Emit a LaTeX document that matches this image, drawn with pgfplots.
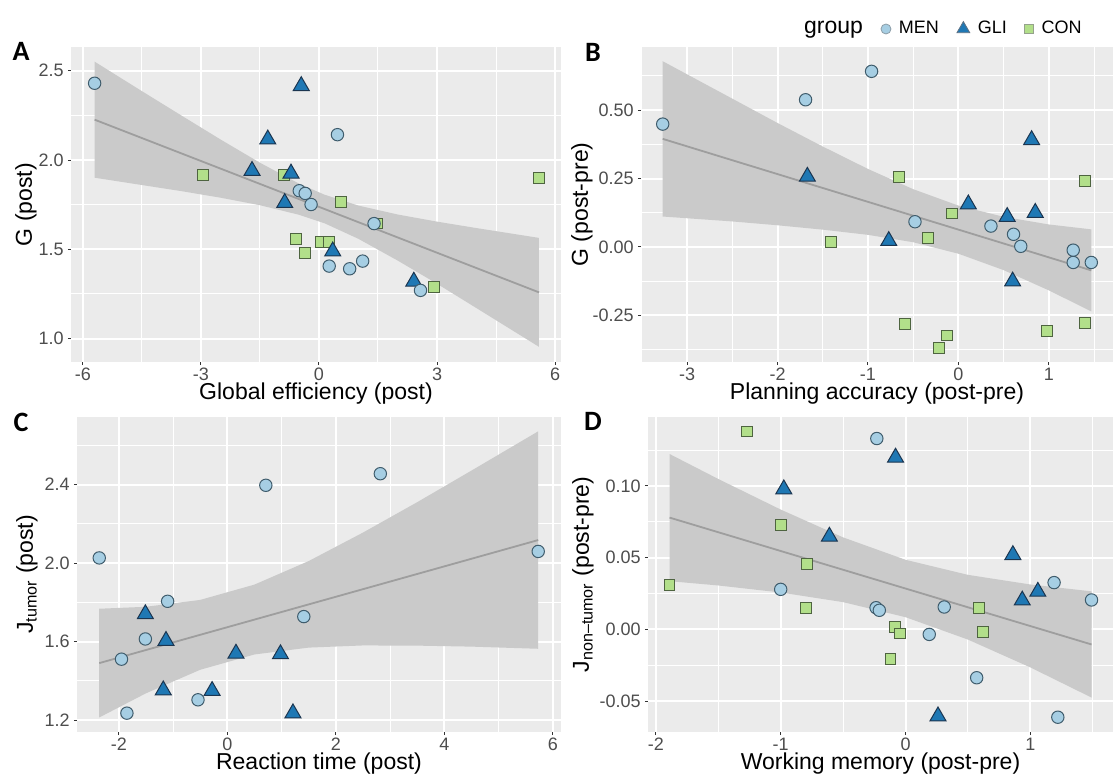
\documentclass[border=0pt]{standalone}
\usepackage{fontspec}
\setmainfont{Liberation Sans}
\newfontfamily\panelfont{Carlito}
\usepackage{pgfplots}
\pgfplotsset{compat=1.18}
\definecolor{panelbg}{HTML}{EBEBEB}
\definecolor{bandfill}{HTML}{CACACA}
\definecolor{fitline}{HTML}{9E9E9E}
\definecolor{men}{HTML}{A6CEE3}
\definecolor{gli}{HTML}{1F78B4}
\definecolor{con}{HTML}{B2DF8A}
\definecolor{menedge}{HTML}{3F5C6C}
\definecolor{gliedge}{HTML}{1B3550}
\definecolor{conedge}{HTML}{4E6440}
\definecolor{ticktxt}{HTML}{4D4D4D}
\pgfplotsset{
  panel/.style={
    scale only axis, anchor=south west,
    axis background/.style={fill=panelbg},
    axis line style={draw=none},
    grid=both,
    major grid style={white, line width=1pt},
    minor grid style={white, line width=0.5pt},
    tick align=outside, major tick length=1.6pt, minor tick length=0pt,
    major tick style={draw=black!80, line width=0.5pt},
    tick pos=left,
    ticklabel style={font=\fontsize{9}{10}\selectfont, text=ticktxt},
    xticklabel style={yshift=2.2pt},
    yticklabel style={xshift=1.5pt},
    label style={font=\fontsize{11.5}{13}\selectfont},
    xlabel style={at={(axis description cs:0.5,-0.1016)}, anchor=center},
  },
  men/.style={only marks, mark=*, mark size=3.1pt, mark options={fill=men, draw=menedge, line width=0.5pt}},
  gli/.style={only marks, mark=triangle*, mark size=4.6pt, mark options={fill=gli, draw=gliedge, line width=0.5pt}},
  con/.style={only marks, mark=square*, mark size=2.7pt, mark options={fill=con, draw=conedge, line width=0.5pt}},
  band/.style={fill=bandfill, draw=none},
  fit/.style={fitline, line width=0.9pt, no marks},
}
\begin{document}
\begin{tikzpicture}
\useasboundingbox (0,0) rectangle (557.5pt,390.5pt);

% ---------------- Panel A ----------------
\begin{axis}[panel, at={(35.5pt,209.5pt)}, width=245pt, height=157.5pt,
  xmin=-6.30, xmax=6.15, ymin=0.869, ymax=2.633,
  xtick={-6,-3,0,3,6}, xticklabels={-6,-3,0,3,6},
  minor xtick={-4.5,-1.5,1.5,4.5},
  ytick={1,1.5,2,2.5}, yticklabels={1.0,1.5,2.0,2.5},
  minor ytick={1.25,1.75,2.25},
  xlabel={Global efficiency (post)}, ylabel={G (post)},
  ylabel style={at={(axis description cs:-0.0918,0.5)}, anchor=center}]
\addplot[band] coordinates {(-5.70,2.551) (-4.5,2.386) (-3.5,2.250) (-2.5,2.115) (-1.5,1.985) (-0.5,1.867) (0.14,1.806) (1,1.745) (2,1.695) (3,1.655) (4,1.619) (5.59,1.564)
 (5.59,0.954) (4,1.171) (3,1.307) (2,1.437) (1,1.559) (0.14,1.646) (-0.5,1.693) (-1.5,1.747) (-2.5,1.789) (-3.5,1.826) (-4.5,1.860) (-5.70,1.901)} -- cycle;
\addplot[fit] coordinates {(-5.70,2.226) (5.59,1.259)};
\addplot[con] coordinates {(-2.95,1.916) (-0.88,1.916) (5.59,1.90) (0.56,1.766) (1.47,1.644) (-0.58,1.556) (0.05,1.541) (0.26,1.541) (-0.35,1.479) (2.92,1.288)};
\addplot[gli] coordinates {(-0.45,2.415) (-1.30,2.116) (-1.70,1.94) (-0.71,1.925) (-0.87,1.76) (0.35,1.489) (2.41,1.32)};
\addplot[men] coordinates {(-5.70,2.43) (0.47,2.142) (-0.50,1.828) (-0.35,1.813) (-0.20,1.751) (1.40,1.644) (0.26,1.406) (0.78,1.391) (1.11,1.434) (2.58,1.270)};
\end{axis}

% ---------------- Panel B ----------------
\begin{axis}[panel, at={(320.5pt,209.5pt)}, width=236pt, height=157.5pt,
  xmin=-3.51, xmax=1.71, ymin=-0.421, ymax=0.731,
  xtick={-3,-2,-1,0,1}, xticklabels={-3,-2,-1,0,1},
  minor xtick={-3.5,-2.5,-1.5,-0.5,0.5,1.5},
  ytick={-0.25,0,0.25,0.5}, yticklabels={-0.25,0.00,0.25,0.50},
  minor ytick={-0.375,-0.125,0.125,0.375,0.625},
  xlabel={Planning accuracy (post-pre)}, ylabel={G (post-pre)},
  ylabel style={at={(axis description cs:-0.125,0.5)}, anchor=center}]
\addplot[band] coordinates {(-3.27,0.679) (-2.5,0.542) (-2,0.453) (-1.5,0.367) (-1,0.285) (-0.5,0.211) (0,0.151) (0.5,0.110) (1,0.082) (1.47,0.064)
 (1.47,-0.236) (1,-0.159) (0.5,-0.085) (0,-0.025) (-0.5,0.017) (-1,0.044) (-1.5,0.063) (-2,0.079) (-2.5,0.093) (-3.27,0.111)} -- cycle;
\addplot[fit] coordinates {(-3.27,0.395) (1.47,-0.086)};
\addplot[con] coordinates {(-0.66,0.257) (1.40,0.241) (-0.07,0.122) (-0.34,0.033) (-1.41,0.018) (-0.59,-0.281) (-0.13,-0.324) (-0.21,-0.369) (0.98,-0.309) (1.40,-0.279)};
\addplot[gli] coordinates {(-1.67,0.257) (0.81,0.391) (0.11,0.156) (0.54,0.110) (0.85,0.125) (-0.77,0.022) (0.60,-0.126)};
\addplot[men] coordinates {(-3.27,0.449) (-1.69,0.538) (-0.96,0.642) (-0.48,0.092) (0.36,0.076) (0.61,0.046) (0.69,0.002) (1.27,-0.012) (1.27,-0.057) (1.47,-0.057)};
\end{axis}

% ---------------- Panel C ----------------
\begin{axis}[panel, at={(38.5pt,24.5pt)}, width=242pt, height=157.5pt,
  xmin=-2.77, xmax=6.15, ymin=1.14, ymax=2.745,
  xtick={-2,0,2,4,6}, xticklabels={-2,0,2,4,6},
  minor xtick={-1,1,3,5},
  ytick={1.2,1.6,2.0,2.4}, yticklabels={1.2,1.6,2.0,2.4},
  minor ytick={1.4,1.8,2.2,2.6},
  xlabel={Reaction time (post)}, ylabel={J\textsubscript{tumor} (post)},
  ylabel style={at={(axis description cs:-0.1033,0.5)}, anchor=center}]
\addplot[band] coordinates {(-2.36,1.768) (-1.5,1.778) (-0.5,1.813) (0.5,1.891) (1.5,2.011) (2.5,2.156) (3.5,2.311) (4.5,2.472) (5.73,2.672)
 (5.73,1.564) (4.5,1.575) (3.5,1.580) (2.5,1.581) (1.5,1.570) (0.5,1.535) (-0.5,1.457) (-1.5,1.337) (-2.36,1.214)} -- cycle;
\addplot[fit] coordinates {(-2.36,1.491) (5.73,2.118)};
\addplot[gli] coordinates {(-1.51,1.741) (-1.13,1.605) (0.16,1.540) (0.98,1.537) (-1.18,1.353) (-0.28,1.350) (1.21,1.236)};
\addplot[men] coordinates {(-2.36,2.027) (0.71,2.397) (2.82,2.456) (5.73,2.060) (-1.10,1.806) (1.41,1.728) (-1.51,1.614) (-1.95,1.511) (-1.85,1.236) (-0.54,1.304)};
\end{axis}

% ---------------- Panel D ----------------
\begin{axis}[panel, at={(324pt,24.5pt)}, width=232.5pt, height=157.5pt,
  xmin=-2.063, xmax=1.662, ymin=-0.0715, ymax=0.148,
  xtick={-2,-1,0,1}, xticklabels={-2,-1,0,1},
  minor xtick={-1.5,-0.5,0.5,1.5},
  ytick={-0.05,0,0.05,0.10}, yticklabels={-0.05,0.00,0.05,0.10},
  minor ytick={-0.025,0.025,0.075,0.125},
  xlabel={Working memory (post-pre)}, ylabel={J\textsubscript{non–tumor} (post-pre)},
  ylabel style={at={(axis description cs:-0.1398,0.5)}, anchor=center}]
\addplot[band] coordinates {(-1.89,0.1222) (-1.5,0.1048) (-1,0.0835) (-0.5,0.0641) (0,0.0485) (0.5,0.0380) (1,0.0313) (1.49,0.0265)
 (1.49,-0.0475) (1,-0.0265) (0.5,-0.0071) (0,0.0085) (-0.5,0.0190) (-1,0.0257) (-1.5,0.0306) (-1.89,0.0336)} -- cycle;
\addplot[fit] coordinates {(-1.89,0.0779) (1.49,-0.0105)};
\addplot[con] coordinates {(-1.27,0.1379) (-1.00,0.0726) (-0.79,0.0453) (-1.89,0.0309) (-0.80,0.0147) (-0.085,0.0019) (-0.045,-0.0028) (0.59,0.0151) (0.62,-0.0016) (-0.12,-0.0205)};
\addplot[gli] coordinates {(-0.08,0.1198) (-0.975,0.0977) (-0.61,0.0647) (0.86,0.0519) (1.06,0.0263) (0.935,0.0202) (0.26,-0.0605)};
\addplot[men] coordinates {(-0.23,0.133) (-1.00,0.0279) (-0.236,0.0151) (-0.21,0.0133) (0.31,0.0156) (0.19,-0.0035) (0.57,-0.0337) (1.19,0.0326) (1.49,0.0205) (1.22,-0.0612)};
\end{axis}

% ---------------- Legend ----------------
\begin{axis}[at={(543pt,376pt)}, anchor=center, scale only axis, width=1pt, height=1pt,
  hide axis, xmin=0, xmax=1, ymin=0, ymax=1,
  legend style={at={(0.5,0.5)}, anchor=east, draw=none, fill=none, inner sep=0pt,
    legend columns=-1, font=\fontsize{9}{10}\selectfont,
    /tikz/every even column/.append style={column sep=7pt},
    /tikz/every odd column/.append style={column sep=2pt}},
  legend image code/.code={\draw[#1] plot coordinates {(0pt,0pt)};}]
\addlegendimage{empty legend}
\addlegendentry{\fontsize{11.5}{13}\selectfont group}
\addlegendimage{only marks, mark=*, mark size=2.5pt, mark options={fill=men, draw=menedge!60, line width=0.4pt}}
\addlegendentry{MEN}
\addlegendimage{only marks, mark=triangle*, mark size=3.7pt, mark options={fill=gli, draw=gliedge!70, line width=0.4pt}}
\addlegendentry{GLI}
\addlegendimage{only marks, mark=square*, mark size=2.2pt, mark options={fill=con, draw=conedge!60, line width=0.4pt}}
\addlegendentry{CON}
\end{axis}

% ---------------- Panel letters ----------------
\node[font=\panelfont\fontsize{14}{16}\selectfont\bfseries] at (10.5pt,365pt) {A};
\node[font=\panelfont\fontsize{14}{16}\selectfont\bfseries] at (296.5pt,364.5pt) {B};
\node[font=\panelfont\fontsize{14}{16}\selectfont\bfseries] at (10.5pt,179.5pt) {C};
\node[font=\panelfont\fontsize{14}{16}\selectfont\bfseries] at (296.5pt,180pt) {D};
\end{tikzpicture}
\end{document}
